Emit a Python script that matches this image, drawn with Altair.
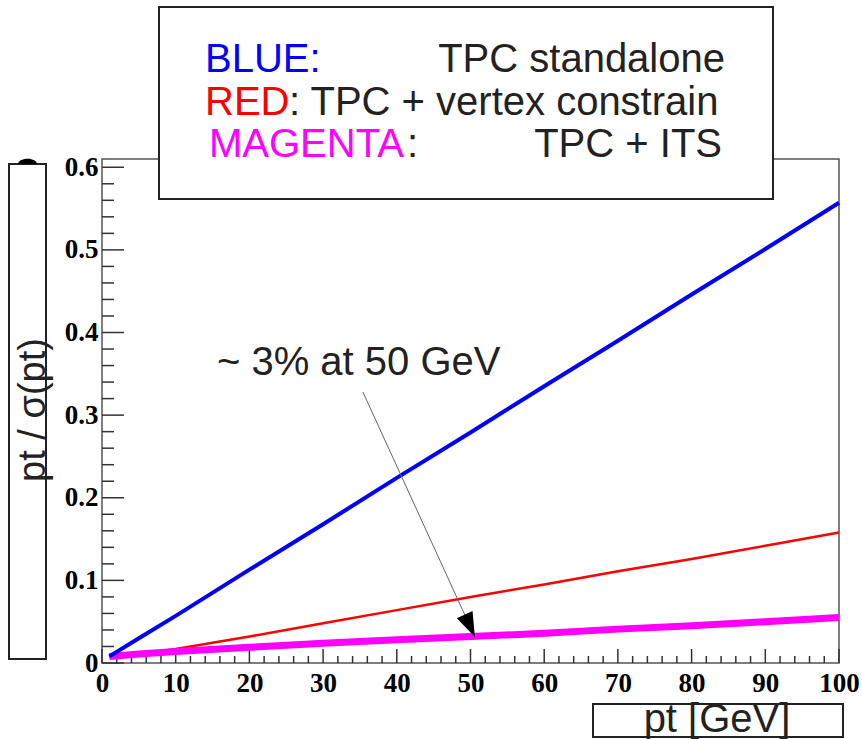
import altair as alt
import pandas as pd

# ---- data ----
pt = [1, 5, 10, 20, 30, 40, 50, 60, 70, 80, 90, 100]
blue_tpc = [0.008, 0.030, 0.057, 0.113, 0.168, 0.224, 0.279, 0.335, 0.390, 0.446, 0.501, 0.557]
red_vtx = [0.008, 0.011, 0.017, 0.032, 0.048, 0.064, 0.080, 0.095, 0.111, 0.126, 0.142, 0.158]
mag_its = [0.008, 0.011, 0.014, 0.019, 0.024, 0.028, 0.032, 0.036, 0.041, 0.045, 0.050, 0.055]

x_major = [0, 10, 20, 30, 40, 50, 60, 70, 80, 90, 100]
x_minor = [v for v in range(0, 101, 2) if v % 10]
y_major = [0, 0.1, 0.2, 0.3, 0.4, 0.5, 0.6]
y_minor = [0.02, 0.04, 0.06, 0.08, 0.12, 0.14, 0.16, 0.18, 0.22, 0.24, 0.26, 0.28,
           0.32, 0.34, 0.36, 0.38, 0.42, 0.44, 0.46, 0.48, 0.52, 0.54, 0.56, 0.58]

arrow_start = (35.4, 0.328)
arrow_tip = (50.6, 0.0315)
annot_pos = (15.6, 0.348)

W, H = 737, 504
SANS = "Liberation Sans"
SERIF = "Liberation Serif"
TS = 40

xs = alt.Scale(domain=[0, 100], nice=False, zero=False)
ys = alt.Scale(domain=[0, 0.61], nice=False, zero=True)
xax = alt.Axis(values=x_major, ticks=False, domain=False, grid=False, title=None,
               labelFont=SERIF, labelFontWeight="bold", labelFontSize=27, labelColor="black",
               labelPadding=7, format="d", labelFlush=False, labelOverlap=False)
yax = alt.Axis(values=y_major, ticks=False, domain=False, grid=False, title=None,
               labelFont=SERIF, labelFontWeight="bold", labelFontSize=27, labelColor="black",
               labelPadding=4, labelFlush=False, labelOverlap=False,
               labelExpr="datum.value == 0 ? '0' : format(datum.value, '.1f')")

one = pd.DataFrame({"k": [0]})


def txt(text, x, y, color, size=TS, align="left", font=SANS, angle=None, weight="normal"):
    kw = dict(text=text, align=align, baseline="alphabetic", font=font, fontSize=size,
              color=color, fontWeight=weight)
    if angle is not None:
        kw["angle"] = angle
    return alt.Chart(one).mark_text(**kw).encode(x=alt.value(x), y=alt.value(y))


def box(x1, x2, y1, y2, stroke="#222", sw=2):
    return alt.Chart(one).mark_rect(fill="white", stroke=stroke, strokeWidth=sw).encode(
        x=alt.value(x1), x2=alt.value(x2), y=alt.value(y1), y2=alt.value(y2))


layers = []
# frame
layers.append(alt.Chart(one).mark_rect(fillOpacity=0, stroke="#555", strokeWidth=1.5).encode(
    x=alt.value(0), x2=alt.value(W), y=alt.value(0), y2=alt.value(H)))

# ticks (inward, ROOT style)
def xticks(vals, length):
    return alt.Chart(pd.DataFrame({"v": vals})).mark_rule(color="#333", strokeWidth=1.5).encode(
        x=alt.X("v:Q", scale=xs, axis=xax), y=alt.value(H), y2=alt.value(H - length))

def yticks(vals, length):
    return alt.Chart(pd.DataFrame({"v": vals})).mark_rule(color="#333", strokeWidth=1.5).encode(
        y=alt.Y("v:Q", scale=ys, axis=yax), x=alt.value(0), x2=alt.value(length))

layers += [xticks(x_major, 14), xticks(x_minor, 7), yticks(y_major, 22), yticks(y_minor, 12)]

# series
for vals, color, sw in [(red_vtx, "#ff0000", 2.5), (mag_its, "#ff00ff", 7), (blue_tpc, "#0000ff", 4)]:
    d = pd.DataFrame({"pt": pt, "val": vals})
    layers.append(alt.Chart(d).mark_line(color=color, strokeWidth=sw, strokeCap="butt").encode(
        x=alt.X("pt:Q", scale=xs, axis=xax), y=alt.Y("val:Q", scale=ys, axis=yax)))

# arrow
arr = pd.DataFrame({"x": [arrow_start[0]], "y": [arrow_start[1]],
                    "x2": [arrow_tip[0]], "y2": [arrow_tip[1]]})
layers.append(alt.Chart(arr).mark_rule(color="#666", strokeWidth=1).encode(
    x=alt.X("x:Q", scale=xs, axis=xax), y=alt.Y("y:Q", scale=ys, axis=yax), x2="x2:Q", y2="y2:Q"))
layers.append(alt.Chart(arr).mark_point(
    shape="M0,0 L-0.098,-1.055 L-0.734,-0.763 Z", size=2420, filled=True, color="black",
    opacity=1, strokeWidth=0).encode(
    x=alt.X("x2:Q", scale=xs, axis=xax), y=alt.Y("y2:Q", scale=ys, axis=yax)))
ann = pd.DataFrame({"x": [annot_pos[0]], "y": [annot_pos[1]]})
layers.append(alt.Chart(ann).mark_text(text="~ 3% at 50 GeV", align="left", baseline="alphabetic",
                                       font=SANS, fontSize=TS, color="#222").encode(
    x=alt.X("x:Q", scale=xs, axis=xax), y=alt.Y("y:Q", scale=ys, axis=yax)))

# legend box
layers.append(box(57, 671, -152, 40))
layers += [
    txt("BLUE:", 103, -87, "#0000ff"),
    txt("TPC standalone", 623, -87, "#222", align="right"),
    txt("RED", 103, -44, "#ff0000"),
    txt(": TPC + vertex constrain", 187, -44, "#222"),
    txt("MAGENTA", 107, -2, "#ff00ff"),
    txt(":", 305, -2, "#222"),
    txt("TPC + ITS", 620, -2, "#222", align="right"),
]

# y title box
layers.append(box(-93, -56, 5, 500))
layers.append(alt.Chart(one).mark_point(shape="M-1,0 A1,0.55 0 0,1 1,0 Z", size=361, filled=True,
                                         color="black", opacity=1, strokeWidth=0).encode(
    x=alt.value(-74.5), y=alt.value(5)))
layers.append(txt("pt / σ(pt)", -57, 251, "#222", size=38, align="center", angle=270))

# x title box
layers.append(box(491, 741, 545, 578))
layers.append(txt("pt [GeV]", 615, 573, "#222", size=40, align="center"))

chart = alt.layer(*layers).properties(
    width=W, height=H,
    autosize=alt.AutoSizeParams(type="none"),
    padding={"left": 102, "top": 159, "right": 23, "bottom": 76},
    background="white",
).configure_view(stroke=None)

chart.save("out.html", embed_options={"renderer": "svg", "actions": False})
